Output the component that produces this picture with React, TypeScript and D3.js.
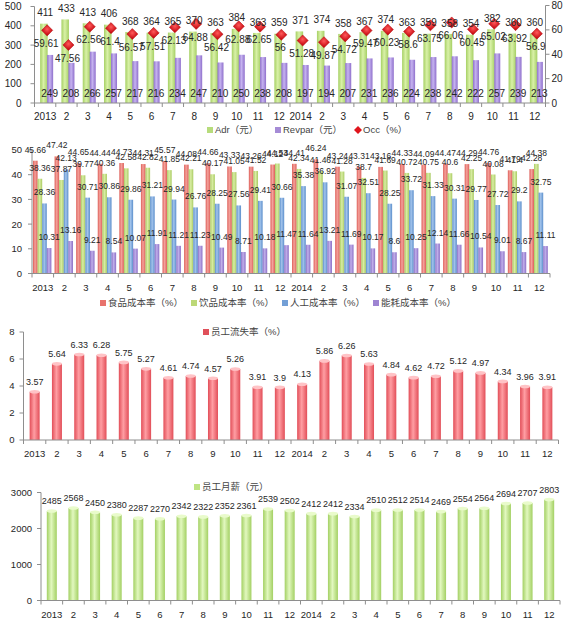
import React from 'react';
import * as d3 from 'd3';

// category labels shared by all four panels
const months = ['2013', '2', '3', '4', '5', '6', '7', '8', '9', '10', '11', '12',
  '2014', '2', '3', '4', '5', '6', '7', '8', '9', '10', '11', '12'];

// panel 1
const adr = [411, 433, 413, 406, 368, 364, 365, 370, 363, 384, 363, 359,
  371, 374, 358, 367, 374, 363, 359, 358, 354, 382, 360, 360];
const revpar = [249, 208, 266, 257, 217, 216, 234, 247, 210, 250, 238, 208,
  197, 194, 207, 231, 236, 224, 238, 242, 222, 257, 239, 213];
const occ = [59.61, 47.56, 62.56, 61.4, 56.57, 57.51, 62.13, 64.88, 56.42, 62.88, 62.65, 56,
  51.28, 49.87, 54.72, 59.47, 60.23, 58.6, 63.75, 66.06, 60.45, 65.02, 63.92, 56.9];

// panel 2
const foodCost = [45.66, 47.42, 44.65, 44.44, 44.73, 44.31, 45.57, 44.08, 44.66, 43.33, 43.26, 44.12,
  44.41, 46.24, 43.24, 43.31, 43.16, 44.33, 44.09, 44.47, 44.29, 44.76, 41.79, 42.28];
const drinkCost = [38.36, 37.87, 39.77, 40.36, 42.58, 42.82, 41.85, 42.21, 40.17, 41.05, 41.52, 44.53,
  42.34, 41.46, 41.28, 38.7, 41.69, 40.72, 40.75, 40.6, 42.25, 40.08, 41.4, 44.38];
const laborCost = [28.36, 42.13, 30.71, 30.86, 29.86, 31.21, 29.94, 26.76, 28.25, 27.56, 29.41, 30.66,
  35.38, 36.92, 31.07, 32.51, 28.25, 33.72, 31.33, 30.31, 29.77, 27.72, 29.2, 32.75];
const energyCost = [10.31, 13.16, 9.21, 8.54, 10.07, 11.91, 11.21, 11.23, 10.49, 8.71, 10.18, 11.47,
  11.64, 13.21, 11.69, 10.17, 8.6, 10.25, 12.14, 11.66, 10.54, 9.01, 8.67, 11.11];
const costNames = ['食品成本率（%）', '饮品成本率（%）', '人工成本率（%）', '能耗成本率（%）'];

// panel 3
const turnover = [3.57, 5.64, 6.33, 6.28, 5.75, 5.27, 4.61, 4.74, 4.57, 5.26, 3.91, 3.9,
  4.13, 5.86, 6.26, 5.63, 4.84, 4.62, 4.72, 5.12, 4.97, 4.34, 3.96, 3.91];

// panel 4
const salary = [2485, 2568, 2450, 2380, 2287, 2270, 2342, 2322, 2352, 2361, 2539, 2502,
  2412, 2412, 2334, 2510, 2512, 2514, 2469, 2554, 2564, 2694, 2707, 2803];

const FONT = '"Liberation Sans", Arial, sans-serif';
const CJK = '"Liberation Sans", "Noto Sans CJK SC", sans-serif';
const AXIS = '#8e8e8e';
const INK = '#262626';

type Band = d3.ScaleBand<number>;
type Lin = d3.ScaleLinear<number, number>;

const XAxis = ({ x, y, size }: { x: Band; y: number; size: number }) => {
  const [r0, r1] = x.range();
  const bw = x.bandwidth();
  return (
    <g>
      <line x1={r0} x2={r1} y1={y} y2={y} stroke={AXIS} />
      {d3.range(months.length + 1).map(i =>
        <line key={i} x1={r0 + i * bw} x2={r0 + i * bw} y1={y} y2={y + 4} stroke={AXIS} />)}
      {months.map((m, i) =>
        <text key={i} x={(x(i) as number) + bw / 2} y={y + 17} textAnchor='middle'
          fontSize={size} fontFamily={FONT} fill={INK}>{m}</text>)}
    </g>
  );
};

const YAxis = ({ y, x, ticks, side, size, gap = 8 }: { y: Lin; x: number; ticks: number[]; side: 'left' | 'right'; size: number; gap?: number }) => {
  const [b, t] = y.range();
  const d = side === 'left' ? -4 : 4;
  return (
    <g>
      <line x1={x} x2={x} y1={b} y2={t} stroke={AXIS} />
      {ticks.map(v =>
        <g key={v}>
          <line x1={x} x2={x + d} y1={y(v)} y2={y(v)} stroke={AXIS} />
          <text x={side === 'left' ? x - gap : x + gap} y={y(v) + size * 0.36}
            textAnchor={side === 'left' ? 'end' : 'start'} fontSize={size} fontFamily={FONT} fill={INK}>{v}</text>
        </g>)}
    </g>
  );
};

const Legend = ({ items, y }: { items: { x: number; fill: string; label: string; diamond?: boolean }[]; y: number }) => (
  <g>
    {items.map(it =>
      <g key={it.label}>
        {it.diamond
          ? <path d={d3.symbol(d3.symbolSquare, 32)() as string} transform={`translate(${it.x + 3},${y}) rotate(45)`} fill={it.fill} />
          : <rect x={it.x} y={y - 3} width={6} height={6} fill={it.fill} />}
        <text x={it.x + 8} y={y + 3.4} fontSize={9.5} fontFamily={CJK} fill='#444'>{it.label}</text>
      </g>)}
  </g>
);

const Grad = ({ id, edge, mid }: { id: string; edge: string; mid: string }) => (
  <linearGradient id={id} x1='0' x2='1' y1='0' y2='0'>
    <stop offset='0' stopColor={edge} />
    <stop offset='0.45' stopColor={mid} />
    <stop offset='1' stopColor={edge} />
  </linearGradient>
);

const RoomPanel = () => {
  const x = d3.scaleBand<number>().domain(d3.range(24)).range([34.5, 545.5]);
  const yL = d3.scaleLinear().domain([0, 500]).range([103, 6.5]);
  const yR = d3.scaleLinear().domain([0, 80]).range([103, 5.5]);
  const bw = x.bandwidth();
  const diamond = d3.symbol(d3.symbolSquare, 62)() as string;
  return (
    <g>
      {adr.map((v, i) => {
        const c = (x(i) as number) + bw / 2;
        return <rect key={i} x={c - 5} y={yL(v)} width={7.5} height={yL(0) - yL(v)} fill='url(#gAdr)' />;
      })}
      {revpar.map((v, i) => {
        const c = (x(i) as number) + bw / 2;
        return <rect key={i} x={c + 2} y={yL(v)} width={6} height={yL(0) - yL(v)} fill='url(#gRev)' />;
      })}
      <YAxis y={yL} x={34.5} ticks={d3.range(0, 501, 100)} side='left' size={10} gap={13} />
      <YAxis y={yR} x={545.5} ticks={d3.range(0, 81, 20)} side='right' size={10} gap={6} />
      <XAxis x={x} y={103} size={10} />
      {occ.map((v, i) => {
        const c = (x(i) as number) + bw / 2;
        return <path key={i} d={diamond} transform={`translate(${c + 2},${yR(v)}) rotate(45)`} fill='url(#gOcc)' stroke='#b30d12' strokeWidth={0.5} />;
      })}
      {adr.map((v, i) => {
        const c = (x(i) as number) + bw / 2;
        return <text key={i} x={c} y={Math.max(yL(v) - 11, 8) + 3.6} textAnchor='middle' fontSize={10} fontFamily={FONT} fill={INK}>{v}</text>;
      })}
      {occ.map((v, i) => {
        const c = (x(i) as number) + bw / 2;
        return <text key={i} x={c + 1} y={yR(v) + 13 + 3.6} textAnchor='middle' fontSize={10} fontFamily={FONT} fill={INK}>{v}</text>;
      })}
      {revpar.map((v, i) => {
        const c = (x(i) as number) + bw / 2;
        return <text key={i} x={c + 4.5} y={96.6} textAnchor='middle' fontSize={10} fontFamily={FONT} fill={INK}>{v}</text>;
      })}
      <Legend y={130} items={[
        { x: 207, fill: '#b7dc7c', label: 'Adr（元）' },
        { x: 275, fill: '#a58bd6', label: 'Revpar（元）' },
        { x: 355, fill: '#e0141c', label: 'Occ（%）', diamond: true },
      ]} />
    </g>
  );
};

const CostPanel = () => {
  const x = d3.scaleBand<number>().domain(d3.range(24)).range([32, 550]);
  const y = d3.scaleLinear().domain([0, 50]).range([273.5, 150]);
  const bw = x.bandwidth();
  const series = [foodCost, drinkCost, laborCost, energyCost];
  const fills = ['url(#gFood)', 'url(#gDrink)', 'url(#gLabor)', 'url(#gEnergy)'];
  const keys = ['#e8736d', '#bcd877', '#739fd6', '#9e84d2'];
  const w = 4.6;
  return (
    <g>
      {series.map((s, k) => s.map((v, i) => {
        const bx = (x(i) as number) + bw / 2 - 9.8 + k * w;
        return <rect key={`${k}-${i}`} x={bx} y={y(v)} width={w} height={y(0) - y(v)} fill={fills[k]} />;
      }))}
      <YAxis y={y} x={32} ticks={d3.range(0, 51, 10)} side='left' size={9.5} gap={10} />
      <XAxis x={x} y={273.5} size={9.5} />
      {series.map((s, k) => s.map((v, i) => {
        const bx = (x(i) as number) + bw / 2 - 9.8 + k * w + w / 2;
        return <text key={`${k}-${i}`} x={bx} y={y(v) - 11 + 3} textAnchor='middle' fontSize={8.5} fontFamily={FONT} fill={INK}>{v}</text>;
      }))}
      <Legend y={303} items={costNames.map((n, k) => ({ x: 100 + k * 91, fill: keys[k], label: n }))} />
    </g>
  );
};

const CylinderBars = ({ x, y, values, fill, cap, width }: { x: Band; y: Lin; values: number[]; fill: string; cap: string; width: number }) => {
  const bw = x.bandwidth();
  return (
    <g>
      {values.map((v, i) => {
        const c = (x(i) as number) + bw / 2;
        return (
          <g key={i}>
            <rect x={c - width / 2} y={y(v)} width={width} height={y(0) - y(v)} fill={fill} />
            <ellipse cx={c} cy={y(v)} rx={width / 2} ry={1.8} fill={cap} />
          </g>
        );
      })}
    </g>
  );
};

const TurnoverPanel = () => {
  const x = d3.scaleBand<number>().domain(d3.range(24)).range([23.5, 558.5]);
  const y = d3.scaleLinear().domain([0, 8]).range([440, 332]);
  const bw = x.bandwidth();
  return (
    <g>
      <CylinderBars x={x} y={y} values={turnover} fill='url(#gTurn)' cap='#ffc3c6' width={10} />
      <YAxis y={y} x={23.5} ticks={d3.range(0, 9, 2)} side='left' size={9.5} gap={9} />
      <XAxis x={x} y={440} size={9.5} />
      {turnover.map((v, i) =>
        <text key={i} x={(x(i) as number) + bw / 2} y={y(v) - 10 + 3.2} textAnchor='middle'
          fontSize={9} fontFamily={FONT} fill={INK}>{v}</text>)}
      <Legend y={332} items={[{ x: 203, fill: '#e0505a', label: '员工流失率（%）' }]} />
    </g>
  );
};

const SalaryPanel = () => {
  const x = d3.scaleBand<number>().domain(d3.range(24)).range([41, 560]);
  const y = d3.scaleLinear().domain([0, 3000]).range([600.5, 492.5]);
  const bw = x.bandwidth();
  return (
    <g>
      <CylinderBars x={x} y={y} values={salary} fill='url(#gSal)' cap='#e9fbcb' width={10} />
      <YAxis y={y} x={41} ticks={d3.range(0, 3001, 1000)} side='left' size={9.5} gap={9} />
      <XAxis x={x} y={600.5} size={9.5} />
      {salary.map((v, i) =>
        <text key={i} x={(x(i) as number) + bw / 2} y={y(v) - 10 + 3.2} textAnchor='middle'
          fontSize={9} fontFamily={FONT} fill={INK}>{v}</text>)}
      <Legend y={487} items={[{ x: 194, fill: '#bfe483', label: '员工月薪（元）' }]} />
    </g>
  );
};

const App = () => (
  <div style={{ position: 'absolute', left: 0, top: 0, background: '#fff' }}>
    <svg width={579} height={625} style={{ display: 'block' }}>
      <defs>
        <Grad id='gAdr' edge='#a6d064' mid='#d9f1a8' />
        <Grad id='gRev' edge='#8f70cc' mid='#c6b3f0' />
        <Grad id='gFood' edge='#dd5f59' mid='#f4a19b' />
        <Grad id='gDrink' edge='#a9cb62' mid='#d9eda4' />
        <Grad id='gLabor' edge='#5b8ecb' mid='#a3c4ec' />
        <Grad id='gEnergy' edge='#8b6ec6' mid='#c1b0ea' />
        <Grad id='gTurn' edge='#e24e58' mid='#ff9ea3' />
        <Grad id='gSal' edge='#a3d063' mid='#e2f8bf' />
        <radialGradient id='gOcc' cx='0.4' cy='0.4' r='0.7'>
          <stop offset='0' stopColor='#ff5a5a' />
          <stop offset='1' stopColor='#c80a12' />
        </radialGradient>
      </defs>
      <rect width={579} height={625} fill='#fff' />
      <RoomPanel />
      <CostPanel />
      <TurnoverPanel />
      <SalaryPanel />
    </svg>
  </div>
);

export default App;
